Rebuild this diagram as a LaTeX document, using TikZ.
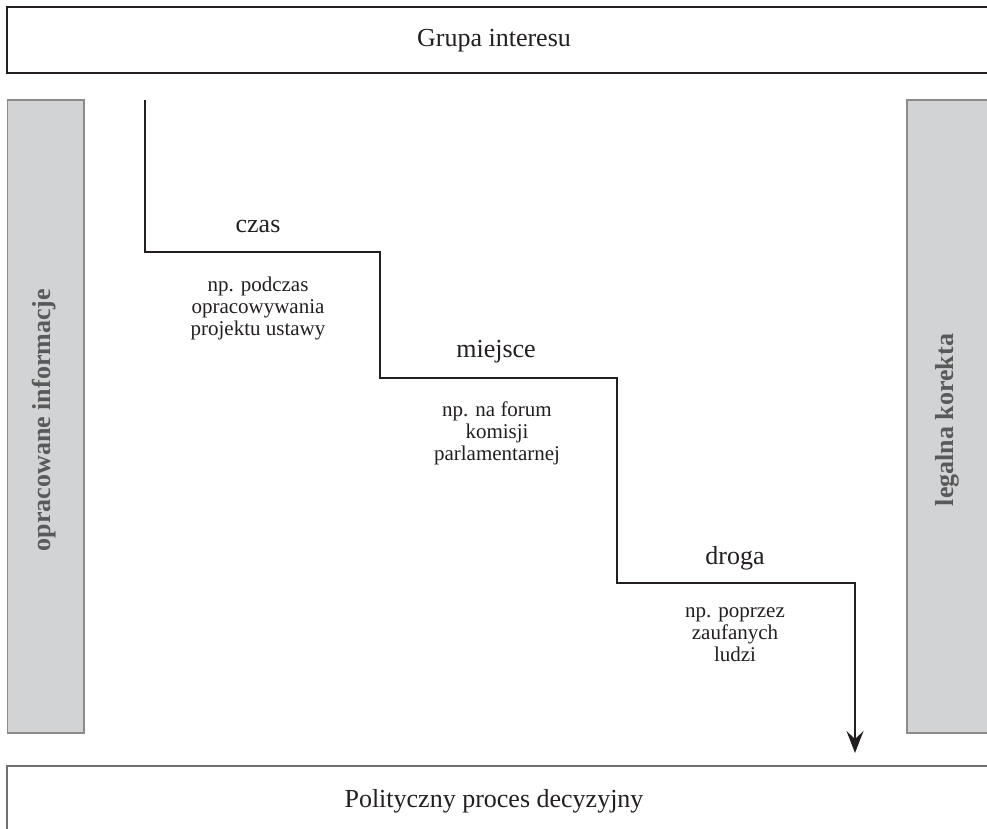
\documentclass[tikz,border=0pt]{standalone}
\usepackage{fontspec}
\setmainfont{Liberation Serif}
\usetikzlibrary{arrows.meta}
\definecolor{barfill}{HTML}{D2D3D5}
\definecolor{barline}{HTML}{8C8C8C}
\definecolor{bartext}{HTML}{595959}
\definecolor{ink}{HTML}{231F20}
\tikzset{
  headbox/.style={draw=ink, line width=1.5pt, fill=white},
  footbox/.style={draw=barline!80!black, line width=2pt, fill=white},
  sidebar/.style={draw=barline, line width=1.3pt, fill=barfill},
  sidetext/.style={rotate=90, text=bartext, font=\fontsize{26}{30}\selectfont\bfseries},
  bigtext/.style={text=ink, font=\fontsize{26}{30}\selectfont, anchor=base, inner sep=0pt},
  steptitle/.style={text=ink, font=\fontsize{26}{30}\selectfont, anchor=base, inner sep=0pt},
  stepnote/.style={text=ink, font=\fontsize{21}{22}\selectfont, align=center, anchor=base, inner sep=0pt},
  stairline/.style={draw=ink, line width=1.6pt, -{Stealth[length=22pt,width=17pt,inset=8pt]}}
}
\begin{document}
\begin{tikzpicture}[x=1pt,y=-1pt]
\useasboundingbox (0,0) rectangle (987,829);
\clip (0,0) rectangle (987,829);
\fill[white] (0,0) rectangle (987,829);
% boxes
\draw[headbox] (7,7) rectangle (1000,73);
\draw[footbox] (7,766) rectangle (1000,850);
\draw[sidebar] (7.5,100) rectangle (84,733);
\draw[sidebar] (907,100) rectangle (1000,733);
% texts
\node[bigtext] (top) at (494,47) {Grupa interesu};
\node[bigtext] (bottom) at (494,807) {Polityczny proces decyzyjny};
\node[sidetext] (left) at (44,420) {opracowane informacje};
\node[sidetext] (right) at (947,420) {legalna korekta};
% stair labels (base = baseline of the last line)
\node[steptitle] (czas) at (258,232) {czas};
\node[stepnote] (n1) at (258,335) {np. podczas\\opracowywania\\projektu ustawy};
\node[steptitle] (miejsce) at (496,357) {miejsce};
\node[stepnote] (n2) at (497,460) {np. na forum\\komisji\\parlamentarnej};
\node[steptitle] (droga) at (735,564) {droga};
\node[stepnote] (n3) at (735,661) {np. poprzez\\zaufanych\\ludzi};
% staircase connector
\coordinate (s) at (145,100);
\coordinate (e) at (855,753);
\draw[stairline] (s) |- (380,252) |- (617,378) |- (855,583) -- (e);
\end{tikzpicture}
\end{document}
